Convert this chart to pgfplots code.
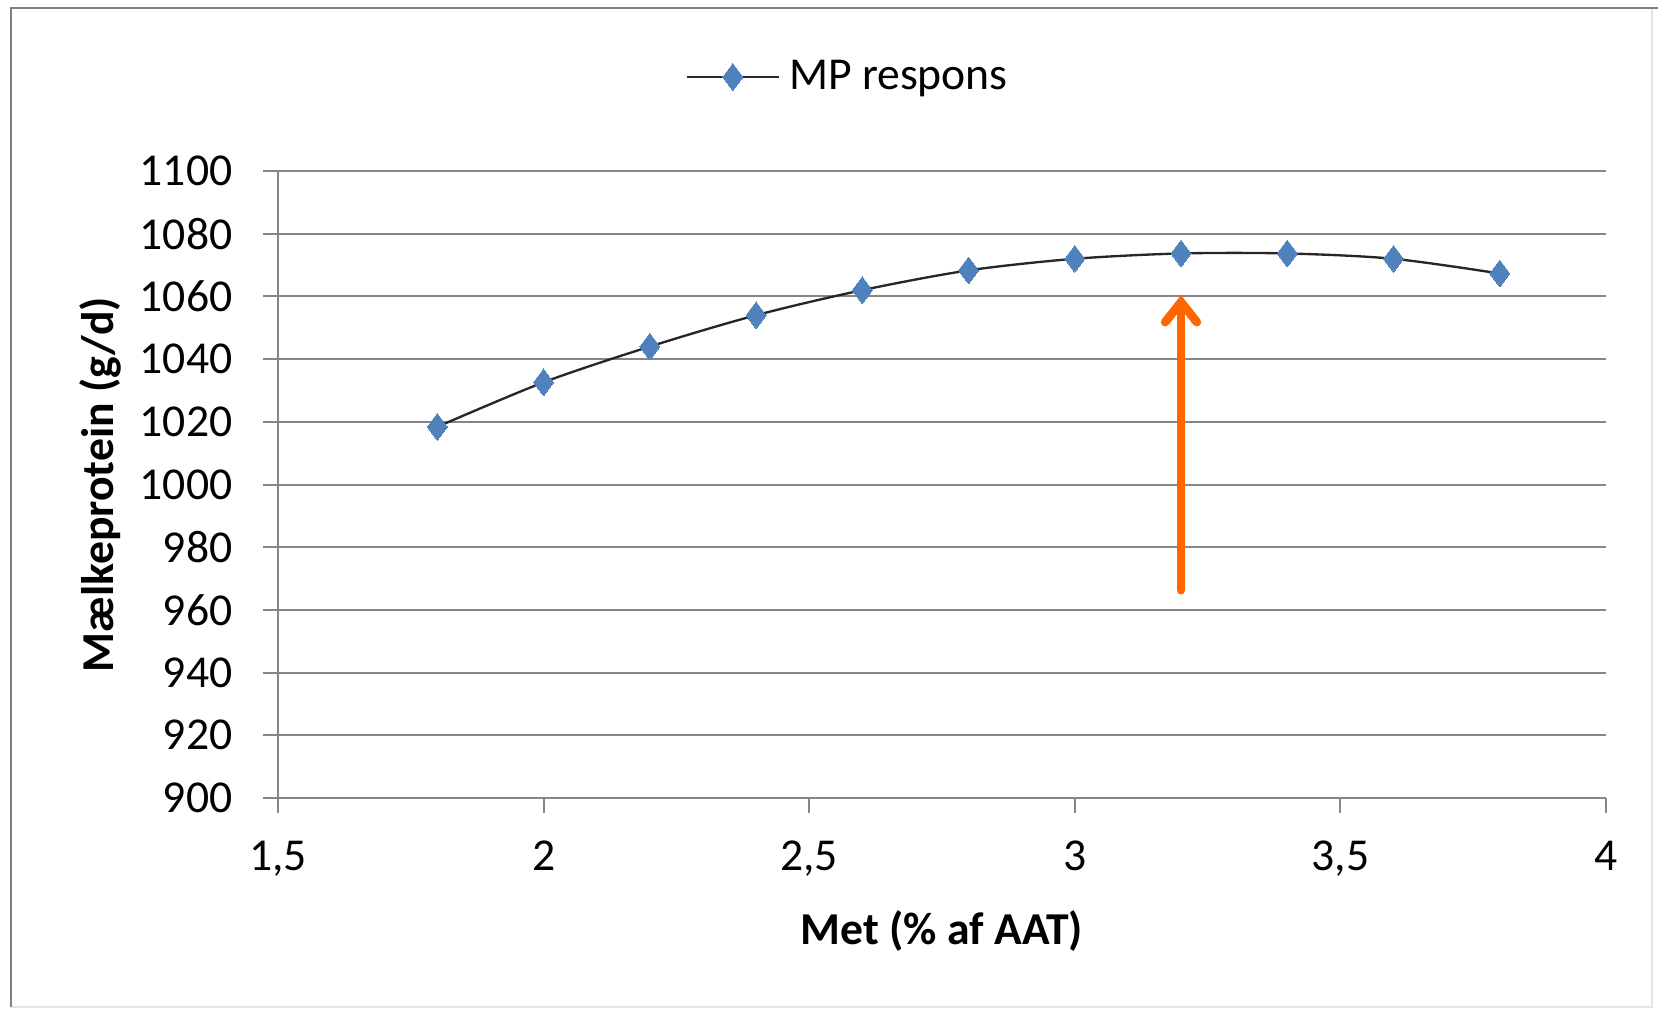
\documentclass[border=0pt]{standalone}
\usepackage{pgfplots}
\pgfplotsset{compat=1.18}
\usetikzlibrary{arrows.meta}
\usepackage{fontspec}
\setmainfont{Carlito}

\definecolor{mpblue}{RGB}{79,129,189}
\definecolor{gridgray}{RGB}{134,134,134}
\definecolor{framegray}{RGB}{128,128,128}
\definecolor{arroworange}{RGB}{255,102,0}

% Milk protein response to methionine supply
\pgfplotstableread{
x    mp
1.8  1018.4
2.0  1032.6
2.2  1044.0
2.4  1054.0
2.6  1062.0
2.8  1068.3
3.0  1072.0
3.2  1073.7
3.4  1073.7
3.6  1072.0
3.8  1067.3
}\mpdata

\begin{document}
\begin{tikzpicture}[x=1pt,y=1pt,font=\fontsize{13.7}{16}\selectfont]
\useasboundingbox (0,0) rectangle (497.4,303.6);
\fill[white] (0,0) rectangle (497.4,303.6);
% chart frame
\draw[gray!20, line width=0.6pt] (3.3,1.5) -- (495.6,1.5) -- (495.6,301.2);
\draw[framegray, line width=0.8pt] (3.3,1.5) -- (3.3,301.2) -- (497.4,301.2);

\begin{axis}[
  at={(83.4pt,64.2pt)}, anchor=south west,
  scale only axis, width=398.4pt, height=188.1pt,
  xmin=1.5, xmax=4, ymin=900, ymax=1100,
  axis x line=bottom, axis y line=left,
  axis line style={-, draw=gridgray, line width=0.6pt},
  xtick={1.5,2,2.5,3,3.5,4},
  ytick={900,920,940,960,980,1000,1020,1040,1060,1080,1100},
  /pgf/number format/.cd, use comma, 1000 sep={}, assume math mode=true,
  /pgfplots/.cd,
  tick align=outside, major tick length=4.5pt,
  tick style={draw=gridgray, line width=0.6pt},
  ymajorgrids, grid style={draw=gridgray, line width=0.6pt},
  xticklabel style={anchor=base, yshift=-17.1pt, inner sep=0pt},
  yticklabel style={anchor=east, xshift=-9pt, inner sep=0pt},
  xlabel={\bfseries Met (\% af AAT)},
  xlabel style={at={(axis description cs:0.5,-0.2344)}, anchor=base, inner sep=0pt},
  ylabel={\bfseries Mælkeprotein (g/d)},
  ylabel style={at={(axis description cs:-0.134,0.5)}, anchor=center, inner sep=0pt},
  legend style={at={(axis description cs:0.3065,1.150)}, anchor=west,
    draw=none, fill=none, inner sep=0pt, nodes={inner sep=0pt},
    column sep=2.7pt},
  legend image code/.code={%
    \draw[#1,mark repeat=2,mark phase=2] plot coordinates {(0pt,0pt) (13.8pt,0pt) (27.6pt,0pt)};},
  clip=false,
]
\addplot[black!85, line width=0.7pt, smooth, mark=diamond*, mark size=4pt,
  mark options={draw=mpblue, fill=mpblue, line width=0pt}] table[x=x, y=mp] {\mpdata};
\addlegendentry{MP respons}

\draw[arroworange, line width=2.6pt, line cap=round,
  -{Straight Barb[length=6pt, width=9.5pt, line cap=round]}]
  (axis cs:3.2,966.3) -- (axis cs:3.2,1060.4);
\end{axis}
\end{tikzpicture}
\end{document}
